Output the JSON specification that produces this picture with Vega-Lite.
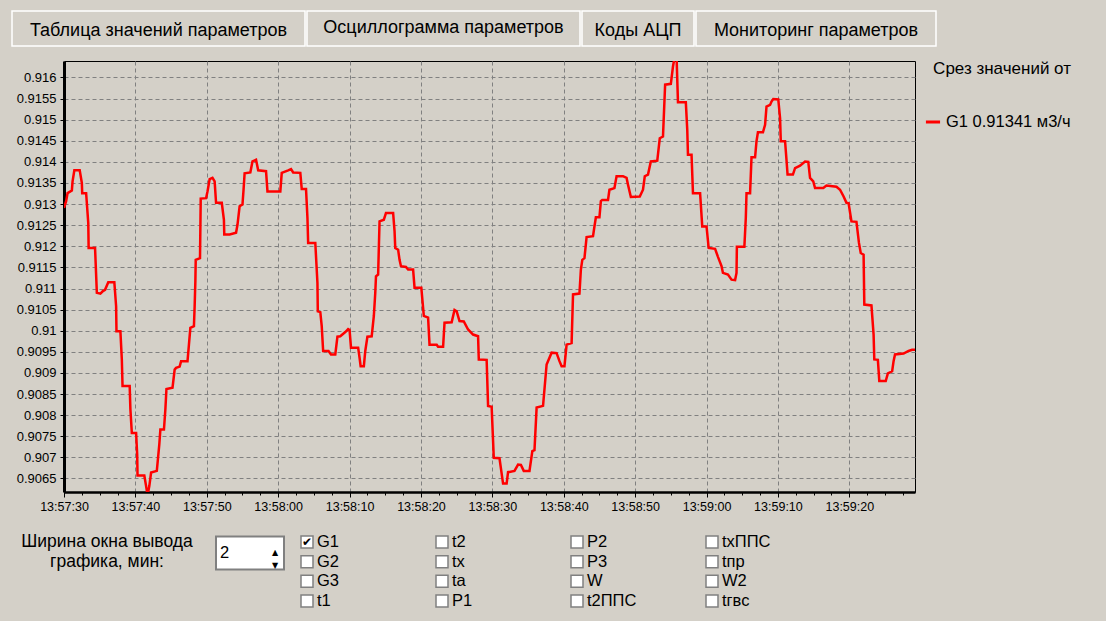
{
  "$schema": "https://vega.github.io/schema/vega-lite/v6.json",
  "background": "#D4D0C8",
  "padding": {"left": 11, "top": 10, "right": 60, "bottom": 20},
  "spacing": 13,
  "resolve": {"scale": {"color": "independent"}, "legend": {"color": "independent"}},
  "config": {"view": {"stroke": null}, "font": "Liberation Sans"},
  "vconcat": [
    {
      "spacing": 0,
      "hconcat": [
        {
          "width": 293, "height": 35,
          "data": {"values": [{"tab": "Таблица значений параметров"}]},
          "layer": [
            {"mark": {"type": "rect", "fill": "#D4D0C8", "stroke": "#FFFFFF", "strokeWidth": 1.5}},
            {"mark": {"type": "text", "fontSize": 18, "color": "#000000", "dy": 2, "font": "Liberation Sans"}, "encoding": {"text": {"field": "tab"}}}
          ]
        },
        {
          "width": 273, "height": 35,
          "data": {"values": [{"tab": "Осциллограмма параметров"}]},
          "layer": [
            {"mark": {"type": "rect", "fill": "#D4D0C8", "stroke": "#FFFFFF", "strokeWidth": 1.5}},
            {"mark": {"type": "text", "fontSize": 18, "color": "#000000", "dy": -1, "font": "Liberation Sans"}, "encoding": {"text": {"field": "tab"}}}
          ]
        },
        {
          "width": 112, "height": 35,
          "data": {"values": [{"tab": "Коды АЦП"}]},
          "layer": [
            {"mark": {"type": "rect", "fill": "#D4D0C8", "stroke": "#FFFFFF", "strokeWidth": 1.5}},
            {"mark": {"type": "text", "fontSize": 18, "color": "#000000", "dy": 2, "font": "Liberation Sans"}, "encoding": {"text": {"field": "tab"}}}
          ]
        },
        {
          "width": 240, "height": 35,
          "data": {"values": [{"tab": "Мониторинг параметров"}]},
          "layer": [
            {"mark": {"type": "rect", "fill": "#D4D0C8", "stroke": "#FFFFFF", "strokeWidth": 1.5}},
            {"mark": {"type": "text", "fontSize": 18, "color": "#000000", "dy": 2, "font": "Liberation Sans"}, "encoding": {"text": {"field": "tab"}}}
          ]
        }
      ]
    },
    {
      "spacing": 0,
      "resolve": {"scale": {"color": "independent"}, "legend": {"color": "independent"}},
      "hconcat": [
        {
          "width": 1,
          "height": 431,
          "data": {"values": [{"spacer": 1}]},
          "mark": {"type": "rect", "fill": "#D4D0C8", "strokeWidth": 0}
        },
        {
          "width": 851,
          "height": 431,
          "view": {"stroke": "#000000", "strokeWidth": 1},
          "data": {
            "format": {"parse": {"time": "utc:'%H:%M:%S.%L'"}},
            "values": [
              {"time": "13:57:30.000", "G1": 0.91291},
              {"time": "13:57:30.300", "G1": 0.91307},
              {"time": "13:57:30.500", "G1": 0.91326},
              {"time": "13:57:31.100", "G1": 0.91332},
              {"time": "13:57:31.200", "G1": 0.91354},
              {"time": "13:57:31.450", "G1": 0.9138},
              {"time": "13:57:32.200", "G1": 0.9138},
              {"time": "13:57:32.500", "G1": 0.9135},
              {"time": "13:57:32.550", "G1": 0.91326},
              {"time": "13:57:33.100", "G1": 0.91326},
              {"time": "13:57:33.400", "G1": 0.91255},
              {"time": "13:57:33.450", "G1": 0.91196},
              {"time": "13:57:34.350", "G1": 0.91196},
              {"time": "13:57:34.600", "G1": 0.9109},
              {"time": "13:57:35.100", "G1": 0.91088},
              {"time": "13:57:35.450", "G1": 0.91094},
              {"time": "13:57:35.750", "G1": 0.91097},
              {"time": "13:57:36.200", "G1": 0.91115},
              {"time": "13:57:37.050", "G1": 0.91115},
              {"time": "13:57:37.300", "G1": 0.91058},
              {"time": "13:57:37.350", "G1": 0.90999},
              {"time": "13:57:37.900", "G1": 0.90999},
              {"time": "13:57:38.100", "G1": 0.90932},
              {"time": "13:57:38.200", "G1": 0.90869},
              {"time": "13:57:39.200", "G1": 0.90869},
              {"time": "13:57:39.300", "G1": 0.90814},
              {"time": "13:57:39.500", "G1": 0.90758},
              {"time": "13:57:40.100", "G1": 0.90758},
              {"time": "13:57:40.250", "G1": 0.90707},
              {"time": "13:57:40.300", "G1": 0.90657},
              {"time": "13:57:41.250", "G1": 0.90657},
              {"time": "13:57:41.500", "G1": 0.90632},
              {"time": "13:57:41.700", "G1": 0.9061},
              {"time": "13:57:41.950", "G1": 0.90632},
              {"time": "13:57:42.200", "G1": 0.90664},
              {"time": "13:57:43.000", "G1": 0.90668},
              {"time": "13:57:43.350", "G1": 0.90731},
              {"time": "13:57:43.500", "G1": 0.90766},
              {"time": "13:57:44.000", "G1": 0.90766},
              {"time": "13:57:44.200", "G1": 0.90814},
              {"time": "13:57:44.350", "G1": 0.90862},
              {"time": "13:57:45.200", "G1": 0.90865},
              {"time": "13:57:45.500", "G1": 0.90908},
              {"time": "13:57:45.700", "G1": 0.90912},
              {"time": "13:57:46.200", "G1": 0.90915},
              {"time": "13:57:46.400", "G1": 0.90928},
              {"time": "13:57:47.300", "G1": 0.90928},
              {"time": "13:57:47.500", "G1": 0.90967},
              {"time": "13:57:47.700", "G1": 0.91007},
              {"time": "13:57:48.200", "G1": 0.91011},
              {"time": "13:57:48.300", "G1": 0.91058},
              {"time": "13:57:48.400", "G1": 0.91117},
              {"time": "13:57:48.450", "G1": 0.91168},
              {"time": "13:57:49.050", "G1": 0.91172},
              {"time": "13:57:49.150", "G1": 0.91313},
              {"time": "13:57:49.900", "G1": 0.91314},
              {"time": "13:57:50.100", "G1": 0.9133},
              {"time": "13:57:50.400", "G1": 0.91359},
              {"time": "13:57:50.800", "G1": 0.91362},
              {"time": "13:57:51.100", "G1": 0.91354},
              {"time": "13:57:51.300", "G1": 0.91303},
              {"time": "13:57:52.100", "G1": 0.91303},
              {"time": "13:57:52.400", "G1": 0.91263},
              {"time": "13:57:52.450", "G1": 0.91228},
              {"time": "13:57:53.200", "G1": 0.91228},
              {"time": "13:57:54.100", "G1": 0.91232},
              {"time": "13:57:54.300", "G1": 0.91251},
              {"time": "13:57:54.600", "G1": 0.91295},
              {"time": "13:57:55.000", "G1": 0.91299},
              {"time": "13:57:55.150", "G1": 0.91334},
              {"time": "13:57:55.300", "G1": 0.91373},
              {"time": "13:57:56.100", "G1": 0.91375},
              {"time": "13:57:56.400", "G1": 0.91401},
              {"time": "13:57:56.900", "G1": 0.91405},
              {"time": "13:57:57.200", "G1": 0.9138},
              {"time": "13:57:58.300", "G1": 0.91378},
              {"time": "13:57:58.500", "G1": 0.9133},
              {"time": "13:58:00.300", "G1": 0.9133},
              {"time": "13:58:00.500", "G1": 0.91374},
              {"time": "13:58:01.400", "G1": 0.9138},
              {"time": "13:58:01.800", "G1": 0.91383},
              {"time": "13:58:02.100", "G1": 0.91375},
              {"time": "13:58:03.100", "G1": 0.91374},
              {"time": "13:58:03.300", "G1": 0.91336},
              {"time": "13:58:03.900", "G1": 0.91336},
              {"time": "13:58:04.100", "G1": 0.91267},
              {"time": "13:58:04.200", "G1": 0.91208},
              {"time": "13:58:05.200", "G1": 0.91208},
              {"time": "13:58:05.500", "G1": 0.91113},
              {"time": "13:58:05.550", "G1": 0.91046},
              {"time": "13:58:05.900", "G1": 0.91044},
              {"time": "13:58:06.100", "G1": 0.91011},
              {"time": "13:58:06.300", "G1": 0.90952},
              {"time": "13:58:07.050", "G1": 0.90952},
              {"time": "13:58:07.400", "G1": 0.90944},
              {"time": "13:58:08.000", "G1": 0.90944},
              {"time": "13:58:08.300", "G1": 0.90986},
              {"time": "13:58:08.700", "G1": 0.90987},
              {"time": "13:58:09.400", "G1": 0.90997},
              {"time": "13:58:09.800", "G1": 0.91004},
              {"time": "13:58:10.000", "G1": 0.91002},
              {"time": "13:58:10.200", "G1": 0.9096},
              {"time": "13:58:11.200", "G1": 0.9096},
              {"time": "13:58:11.400", "G1": 0.90936},
              {"time": "13:58:11.550", "G1": 0.90916},
              {"time": "13:58:12.000", "G1": 0.90916},
              {"time": "13:58:12.200", "G1": 0.90952},
              {"time": "13:58:12.500", "G1": 0.90986},
              {"time": "13:58:13.100", "G1": 0.90987},
              {"time": "13:58:13.400", "G1": 0.91035},
              {"time": "13:58:13.600", "G1": 0.9109},
              {"time": "13:58:13.700", "G1": 0.91129},
              {"time": "13:58:14.000", "G1": 0.91133},
              {"time": "13:58:14.200", "G1": 0.91259},
              {"time": "13:58:14.800", "G1": 0.91263},
              {"time": "13:58:15.100", "G1": 0.91279},
              {"time": "13:58:16.100", "G1": 0.91279},
              {"time": "13:58:16.300", "G1": 0.91236},
              {"time": "13:58:16.400", "G1": 0.91196},
              {"time": "13:58:16.800", "G1": 0.91192},
              {"time": "13:58:17.000", "G1": 0.91168},
              {"time": "13:58:17.200", "G1": 0.91153},
              {"time": "13:58:17.900", "G1": 0.91151},
              {"time": "13:58:18.200", "G1": 0.91145},
              {"time": "13:58:18.900", "G1": 0.91145},
              {"time": "13:58:19.100", "G1": 0.91102},
              {"time": "13:58:20.050", "G1": 0.91102},
              {"time": "13:58:20.400", "G1": 0.91035},
              {"time": "13:58:21.000", "G1": 0.91031},
              {"time": "13:58:21.200", "G1": 0.90967},
              {"time": "13:58:22.200", "G1": 0.90967},
              {"time": "13:58:22.400", "G1": 0.90962},
              {"time": "13:58:23.100", "G1": 0.90962},
              {"time": "13:58:23.300", "G1": 0.91019},
              {"time": "13:58:24.300", "G1": 0.9102},
              {"time": "13:58:24.700", "G1": 0.91049},
              {"time": "13:58:25.000", "G1": 0.91046},
              {"time": "13:58:25.400", "G1": 0.91023},
              {"time": "13:58:26.000", "G1": 0.91022},
              {"time": "13:58:26.600", "G1": 0.91003},
              {"time": "13:58:27.300", "G1": 0.90991},
              {"time": "13:58:28.000", "G1": 0.90987},
              {"time": "13:58:28.100", "G1": 0.90932},
              {"time": "13:58:29.200", "G1": 0.90931},
              {"time": "13:58:29.400", "G1": 0.90822},
              {"time": "13:58:29.900", "G1": 0.9082},
              {"time": "13:58:30.200", "G1": 0.90699},
              {"time": "13:58:31.000", "G1": 0.90698},
              {"time": "13:58:31.500", "G1": 0.90638},
              {"time": "13:58:32.000", "G1": 0.90638},
              {"time": "13:58:32.200", "G1": 0.90665},
              {"time": "13:58:33.100", "G1": 0.90668},
              {"time": "13:58:33.600", "G1": 0.90683},
              {"time": "13:58:34.000", "G1": 0.90682},
              {"time": "13:58:34.400", "G1": 0.90668},
              {"time": "13:58:35.200", "G1": 0.90668},
              {"time": "13:58:35.600", "G1": 0.90715},
              {"time": "13:58:35.900", "G1": 0.90717},
              {"time": "13:58:36.200", "G1": 0.90818},
              {"time": "13:58:37.100", "G1": 0.90822},
              {"time": "13:58:37.600", "G1": 0.9092},
              {"time": "13:58:38.300", "G1": 0.90948},
              {"time": "13:58:39.000", "G1": 0.90947},
              {"time": "13:58:39.400", "G1": 0.90928},
              {"time": "13:58:39.700", "G1": 0.90916},
              {"time": "13:58:40.100", "G1": 0.90916},
              {"time": "13:58:40.400", "G1": 0.90967},
              {"time": "13:58:41.100", "G1": 0.90971},
              {"time": "13:58:41.300", "G1": 0.91086},
              {"time": "13:58:42.200", "G1": 0.91088},
              {"time": "13:58:42.400", "G1": 0.91145},
              {"time": "13:58:42.600", "G1": 0.91168},
              {"time": "13:58:42.900", "G1": 0.91172},
              {"time": "13:58:43.200", "G1": 0.91222},
              {"time": "13:58:44.100", "G1": 0.91224},
              {"time": "13:58:44.300", "G1": 0.91247},
              {"time": "13:58:44.500", "G1": 0.91269},
              {"time": "13:58:45.000", "G1": 0.91269},
              {"time": "13:58:45.200", "G1": 0.91307},
              {"time": "13:58:45.400", "G1": 0.9131},
              {"time": "13:58:46.200", "G1": 0.9131},
              {"time": "13:58:46.400", "G1": 0.91334},
              {"time": "13:58:47.100", "G1": 0.91338},
              {"time": "13:58:47.400", "G1": 0.91366},
              {"time": "13:58:48.300", "G1": 0.91366},
              {"time": "13:58:48.800", "G1": 0.91362},
              {"time": "13:58:49.000", "G1": 0.91346},
              {"time": "13:58:49.400", "G1": 0.91317},
              {"time": "13:58:50.650", "G1": 0.91318},
              {"time": "13:58:51.100", "G1": 0.91334},
              {"time": "13:58:51.350", "G1": 0.91366},
              {"time": "13:58:51.800", "G1": 0.9137},
              {"time": "13:58:52.200", "G1": 0.91401},
              {"time": "13:58:53.100", "G1": 0.91403},
              {"time": "13:58:53.450", "G1": 0.91456},
              {"time": "13:58:53.900", "G1": 0.9146},
              {"time": "13:58:54.200", "G1": 0.91583},
              {"time": "13:58:55.000", "G1": 0.91585},
              {"time": "13:58:55.300", "G1": 0.91626},
              {"time": "13:58:55.550", "G1": 0.9165},
              {"time": "13:58:55.800", "G1": 0.9165},
              {"time": "13:58:56.000", "G1": 0.91541},
              {"time": "13:58:57.100", "G1": 0.91541},
              {"time": "13:58:57.300", "G1": 0.91476},
              {"time": "13:58:57.400", "G1": 0.91417},
              {"time": "13:58:57.900", "G1": 0.91417},
              {"time": "13:58:58.100", "G1": 0.91326},
              {"time": "13:58:59.100", "G1": 0.91326},
              {"time": "13:58:59.400", "G1": 0.91247},
              {"time": "13:59:00.000", "G1": 0.91247},
              {"time": "13:59:00.300", "G1": 0.91196},
              {"time": "13:59:01.200", "G1": 0.91194},
              {"time": "13:59:01.600", "G1": 0.91175},
              {"time": "13:59:02.100", "G1": 0.91153},
              {"time": "13:59:02.300", "G1": 0.91137},
              {"time": "13:59:03.000", "G1": 0.91133},
              {"time": "13:59:03.500", "G1": 0.91121},
              {"time": "13:59:04.000", "G1": 0.9112},
              {"time": "13:59:04.200", "G1": 0.91137},
              {"time": "13:59:04.250", "G1": 0.91199},
              {"time": "13:59:05.300", "G1": 0.91199},
              {"time": "13:59:05.500", "G1": 0.91267},
              {"time": "13:59:05.600", "G1": 0.91326},
              {"time": "13:59:06.100", "G1": 0.91326},
              {"time": "13:59:06.300", "G1": 0.91411},
              {"time": "13:59:06.800", "G1": 0.91411},
              {"time": "13:59:07.000", "G1": 0.91449},
              {"time": "13:59:07.200", "G1": 0.9147},
              {"time": "13:59:07.900", "G1": 0.9147},
              {"time": "13:59:08.200", "G1": 0.91488},
              {"time": "13:59:08.400", "G1": 0.91531},
              {"time": "13:59:08.900", "G1": 0.91535},
              {"time": "13:59:09.100", "G1": 0.91543},
              {"time": "13:59:09.350", "G1": 0.91549},
              {"time": "13:59:10.050", "G1": 0.91548},
              {"time": "13:59:10.300", "G1": 0.91504},
              {"time": "13:59:10.400", "G1": 0.91449},
              {"time": "13:59:11.000", "G1": 0.91449},
              {"time": "13:59:11.200", "G1": 0.91405},
              {"time": "13:59:11.350", "G1": 0.9137},
              {"time": "13:59:12.100", "G1": 0.9137},
              {"time": "13:59:12.400", "G1": 0.91385},
              {"time": "13:59:13.100", "G1": 0.91391},
              {"time": "13:59:13.800", "G1": 0.91401},
              {"time": "13:59:14.250", "G1": 0.914},
              {"time": "13:59:14.500", "G1": 0.91362},
              {"time": "13:59:14.950", "G1": 0.91354},
              {"time": "13:59:15.200", "G1": 0.91338},
              {"time": "13:59:16.350", "G1": 0.91338},
              {"time": "13:59:16.800", "G1": 0.91344},
              {"time": "13:59:18.200", "G1": 0.91341},
              {"time": "13:59:18.700", "G1": 0.91334},
              {"time": "13:59:19.200", "G1": 0.91318},
              {"time": "13:59:19.600", "G1": 0.91303},
              {"time": "13:59:19.900", "G1": 0.91302},
              {"time": "13:59:20.300", "G1": 0.91259},
              {"time": "13:59:21.000", "G1": 0.91258},
              {"time": "13:59:21.350", "G1": 0.91208},
              {"time": "13:59:21.600", "G1": 0.91184},
              {"time": "13:59:22.000", "G1": 0.9118},
              {"time": "13:59:22.100", "G1": 0.91062},
              {"time": "13:59:23.100", "G1": 0.9106},
              {"time": "13:59:23.400", "G1": 0.90991},
              {"time": "13:59:23.500", "G1": 0.90932},
              {"time": "13:59:24.000", "G1": 0.90931},
              {"time": "13:59:24.200", "G1": 0.90881},
              {"time": "13:59:25.100", "G1": 0.90881},
              {"time": "13:59:25.400", "G1": 0.90899},
              {"time": "13:59:26.000", "G1": 0.90904},
              {"time": "13:59:26.200", "G1": 0.90928},
              {"time": "13:59:26.400", "G1": 0.90944},
              {"time": "13:59:27.600", "G1": 0.90946},
              {"time": "13:59:28.300", "G1": 0.90952},
              {"time": "13:59:28.800", "G1": 0.90955},
              {"time": "13:59:29.200", "G1": 0.90955}
            ]
          },
          "mark": {"type": "line", "strokeWidth": 2.5, "clip": true, "interpolate": "linear"},
          "encoding": {
            "x": {
              "field": "time", "type": "temporal",
              "scale": {"type": "utc", "nice": false},
              "axis": {
                "title": null,
                "values": [
                  {"year": 1900, "month": 1, "date": 1, "hours": 13, "minutes": 57, "seconds": 30, "utc": true},
                  {"year": 1900, "month": 1, "date": 1, "hours": 13, "minutes": 57, "seconds": 32, "milliseconds": 500, "utc": true},
                  {"year": 1900, "month": 1, "date": 1, "hours": 13, "minutes": 57, "seconds": 35, "utc": true},
                  {"year": 1900, "month": 1, "date": 1, "hours": 13, "minutes": 57, "seconds": 37, "milliseconds": 500, "utc": true},
                  {"year": 1900, "month": 1, "date": 1, "hours": 13, "minutes": 57, "seconds": 40, "utc": true},
                  {"year": 1900, "month": 1, "date": 1, "hours": 13, "minutes": 57, "seconds": 42, "milliseconds": 500, "utc": true},
                  {"year": 1900, "month": 1, "date": 1, "hours": 13, "minutes": 57, "seconds": 45, "utc": true},
                  {"year": 1900, "month": 1, "date": 1, "hours": 13, "minutes": 57, "seconds": 47, "milliseconds": 500, "utc": true},
                  {"year": 1900, "month": 1, "date": 1, "hours": 13, "minutes": 57, "seconds": 50, "utc": true},
                  {"year": 1900, "month": 1, "date": 1, "hours": 13, "minutes": 57, "seconds": 52, "milliseconds": 500, "utc": true},
                  {"year": 1900, "month": 1, "date": 1, "hours": 13, "minutes": 57, "seconds": 55, "utc": true},
                  {"year": 1900, "month": 1, "date": 1, "hours": 13, "minutes": 57, "seconds": 57, "milliseconds": 500, "utc": true},
                  {"year": 1900, "month": 1, "date": 1, "hours": 13, "minutes": 58, "seconds": 0, "utc": true},
                  {"year": 1900, "month": 1, "date": 1, "hours": 13, "minutes": 58, "seconds": 2, "milliseconds": 500, "utc": true},
                  {"year": 1900, "month": 1, "date": 1, "hours": 13, "minutes": 58, "seconds": 5, "utc": true},
                  {"year": 1900, "month": 1, "date": 1, "hours": 13, "minutes": 58, "seconds": 7, "milliseconds": 500, "utc": true},
                  {"year": 1900, "month": 1, "date": 1, "hours": 13, "minutes": 58, "seconds": 10, "utc": true},
                  {"year": 1900, "month": 1, "date": 1, "hours": 13, "minutes": 58, "seconds": 12, "milliseconds": 500, "utc": true},
                  {"year": 1900, "month": 1, "date": 1, "hours": 13, "minutes": 58, "seconds": 15, "utc": true},
                  {"year": 1900, "month": 1, "date": 1, "hours": 13, "minutes": 58, "seconds": 17, "milliseconds": 500, "utc": true},
                  {"year": 1900, "month": 1, "date": 1, "hours": 13, "minutes": 58, "seconds": 20, "utc": true},
                  {"year": 1900, "month": 1, "date": 1, "hours": 13, "minutes": 58, "seconds": 22, "milliseconds": 500, "utc": true},
                  {"year": 1900, "month": 1, "date": 1, "hours": 13, "minutes": 58, "seconds": 25, "utc": true},
                  {"year": 1900, "month": 1, "date": 1, "hours": 13, "minutes": 58, "seconds": 27, "milliseconds": 500, "utc": true},
                  {"year": 1900, "month": 1, "date": 1, "hours": 13, "minutes": 58, "seconds": 30, "utc": true},
                  {"year": 1900, "month": 1, "date": 1, "hours": 13, "minutes": 58, "seconds": 32, "milliseconds": 500, "utc": true},
                  {"year": 1900, "month": 1, "date": 1, "hours": 13, "minutes": 58, "seconds": 35, "utc": true},
                  {"year": 1900, "month": 1, "date": 1, "hours": 13, "minutes": 58, "seconds": 37, "milliseconds": 500, "utc": true},
                  {"year": 1900, "month": 1, "date": 1, "hours": 13, "minutes": 58, "seconds": 40, "utc": true},
                  {"year": 1900, "month": 1, "date": 1, "hours": 13, "minutes": 58, "seconds": 42, "milliseconds": 500, "utc": true},
                  {"year": 1900, "month": 1, "date": 1, "hours": 13, "minutes": 58, "seconds": 45, "utc": true},
                  {"year": 1900, "month": 1, "date": 1, "hours": 13, "minutes": 58, "seconds": 47, "milliseconds": 500, "utc": true},
                  {"year": 1900, "month": 1, "date": 1, "hours": 13, "minutes": 58, "seconds": 50, "utc": true},
                  {"year": 1900, "month": 1, "date": 1, "hours": 13, "minutes": 58, "seconds": 52, "milliseconds": 500, "utc": true},
                  {"year": 1900, "month": 1, "date": 1, "hours": 13, "minutes": 58, "seconds": 55, "utc": true},
                  {"year": 1900, "month": 1, "date": 1, "hours": 13, "minutes": 58, "seconds": 57, "milliseconds": 500, "utc": true},
                  {"year": 1900, "month": 1, "date": 1, "hours": 13, "minutes": 59, "seconds": 0, "utc": true},
                  {"year": 1900, "month": 1, "date": 1, "hours": 13, "minutes": 59, "seconds": 2, "milliseconds": 500, "utc": true},
                  {"year": 1900, "month": 1, "date": 1, "hours": 13, "minutes": 59, "seconds": 5, "utc": true},
                  {"year": 1900, "month": 1, "date": 1, "hours": 13, "minutes": 59, "seconds": 7, "milliseconds": 500, "utc": true},
                  {"year": 1900, "month": 1, "date": 1, "hours": 13, "minutes": 59, "seconds": 10, "utc": true},
                  {"year": 1900, "month": 1, "date": 1, "hours": 13, "minutes": 59, "seconds": 12, "milliseconds": 500, "utc": true},
                  {"year": 1900, "month": 1, "date": 1, "hours": 13, "minutes": 59, "seconds": 15, "utc": true},
                  {"year": 1900, "month": 1, "date": 1, "hours": 13, "minutes": 59, "seconds": 17, "milliseconds": 500, "utc": true},
                  {"year": 1900, "month": 1, "date": 1, "hours": 13, "minutes": 59, "seconds": 20, "utc": true},
                  {"year": 1900, "month": 1, "date": 1, "hours": 13, "minutes": 59, "seconds": 22, "milliseconds": 500, "utc": true},
                  {"year": 1900, "month": 1, "date": 1, "hours": 13, "minutes": 59, "seconds": 25, "utc": true},
                  {"year": 1900, "month": 1, "date": 1, "hours": 13, "minutes": 59, "seconds": 27, "milliseconds": 500, "utc": true}
                ],
                "format": "%H:%M:%S",
                "labelExpr": "(utcseconds(datum.value) % 10 === 0 && utcmilliseconds(datum.value) === 0) ? datum.label : ''",
                "labelOverlap": false,
                "labelFlush": false,
                "labelFont": "Liberation Sans",
                "labelFontSize": 12.5,
                "labelColor": "#000000",
                "labelPadding": 3,
                "tickColor": "#000000",
                "tickSize": {"condition": {"test": "utcseconds(datum.value) % 10 === 0 && utcmilliseconds(datum.value) === 0", "value": 5}, "value": 3},
                "domainColor": "#000000",
                "domainWidth": 2.5,
                "grid": true,
                "gridColor": "#808080",
                "gridDash": [4, 3],
                "gridWidth": 1,
                "gridOpacity": {"condition": {"test": "utcseconds(datum.value) % 10 === 0 && utcmilliseconds(datum.value) === 0", "value": 1}, "value": 0}
              }
            },
            "y": {
              "field": "G1", "type": "quantitative",
              "scale": {"domain": [0.90618, 0.91639], "nice": false, "zero": false},
              "axis": {
                "title": null,
                "values": [0.9065, 0.907, 0.9075, 0.908, 0.9085, 0.909, 0.9095, 0.91, 0.9105, 0.911, 0.9115, 0.912, 0.9125, 0.913, 0.9135, 0.914, 0.9145, 0.915, 0.9155, 0.916],
                "format": ".4~f",
                "labelFont": "Liberation Sans",
                "labelFontSize": 13,
                "labelColor": "#000000",
                "labelPadding": 4,
                "tickColor": "#000000",
                "tickSize": 4,
                "domainColor": "#000000",
                "domainWidth": 3,
                "grid": true,
                "gridColor": "#808080",
                "gridDash": [4, 3],
                "gridWidth": 1,
                "minExtent": 50,
                "maxExtent": 50
              }
            },
            "color": {
              "datum": "G1",
              "scale": {"range": ["#FF0000"]},
              "legend": {
                "title": "Срез значений от",
                "orient": "right",
                "offset": 9,
                "padding": 0,
                "symbolType": "stroke",
                "symbolStrokeWidth": 3,
                "symbolSize": 200,
                "labelFont": "Liberation Sans",
                "labelFontSize": 16.5,
                "labelColor": "#000000",
                "labelExpr": "datum.label + ' 0.91341 м3/ч'",
                "titleFont": "Liberation Sans",
                "titleFontSize": 17,
                "titleFontWeight": "normal",
                "titleColor": "#000000",
                "titlePadding": 35,
                "titleAnchor": "end"
              }
            }
          }
        }
      ]
    },
    {
      "spacing": 13,
      "hconcat": [
        {
          "width": 190,
          "height": 91,
          "data": {"values": [
            {"row": 1, "text": "Ширина окна вывода"},
            {"row": 2, "text": "графика, мин:"}
          ]},
          "mark": {"type": "text", "fontSize": 17.5, "color": "#000000", "font": "Liberation Sans"},
          "encoding": {
            "y": {"field": "row", "type": "ordinal", "axis": null, "scale": {"type": "point", "domain": [1, 2, 3, 4], "padding": 0.81}},
            "text": {"field": "text"}
          }
        },
        {
          "width": 68,
          "height": 43.5,
          "data": {"values": [{"box": "spin", "value": "2", "arrows": "▲\n▼"}]},
          "encoding": {
            "y": {"field": "box", "type": "nominal", "axis": null, "scale": {"paddingInner": 0, "paddingOuter": 0.159, "align": 1}}
          },
          "layer": [
            {"mark": {"type": "rect", "fill": "#FFFFFF", "stroke": "#808080", "strokeWidth": 2}},
            {"mark": {"type": "text", "fontSize": 16.5, "align": "left", "dx": -30, "color": "#000000", "font": "Liberation Sans"},
             "encoding": {"text": {"field": "value"}}},
            {"mark": {"type": "text", "fontSize": 8, "lineBreak": "\n", "lineHeight": 13, "dx": 25, "color": "#000000", "font": "DejaVu Sans"},
             "encoding": {"text": {"field": "arrows"}}}
          ]
        },
        {
          "width": 405,
          "height": 91,
          "data": {"values": [
            {"name": "G1", "col": 1, "row": 1, "checked": true},
            {"name": "G2", "col": 1, "row": 2, "checked": false},
            {"name": "G3", "col": 1, "row": 3, "checked": false},
            {"name": "t1", "col": 1, "row": 4, "checked": false},
            {"name": "t2", "col": 2, "row": 1, "checked": false},
            {"name": "tx", "col": 2, "row": 2, "checked": false},
            {"name": "ta", "col": 2, "row": 3, "checked": false},
            {"name": "P1", "col": 2, "row": 4, "checked": false},
            {"name": "P2", "col": 3, "row": 1, "checked": false},
            {"name": "P3", "col": 3, "row": 2, "checked": false},
            {"name": "W", "col": 3, "row": 3, "checked": false},
            {"name": "t2ППС", "col": 3, "row": 4, "checked": false},
            {"name": "txППС", "col": 4, "row": 1, "checked": false},
            {"name": "tпр", "col": 4, "row": 2, "checked": false},
            {"name": "W2", "col": 4, "row": 3, "checked": false},
            {"name": "tгвс", "col": 4, "row": 4, "checked": false}
          ]},
          "encoding": {
            "x": {"field": "col", "type": "ordinal", "axis": null, "scale": {"type": "point", "padding": 0}},
            "y": {"field": "row", "type": "ordinal", "axis": null, "scale": {"type": "point", "domain": [1, 2, 3, 4], "padding": 0.81}}
          },
          "layer": [
            {"mark": {"type": "square", "size": 144, "filled": true, "color": "#FFFFFF", "stroke": "#808080", "strokeWidth": 1.5, "opacity": 1}},
            {"mark": {"type": "text", "fontSize": 12, "color": "#000000", "font": "DejaVu Sans"},
             "encoding": {"text": {"condition": {"test": "datum.checked", "value": "✔"}, "value": ""}}},
            {"mark": {"type": "text", "fontSize": 16.5, "align": "left", "dx": 10, "color": "#000000", "font": "Liberation Sans"},
             "encoding": {"text": {"field": "name"}}}
          ]
        }
      ]
    }
  ]
}
